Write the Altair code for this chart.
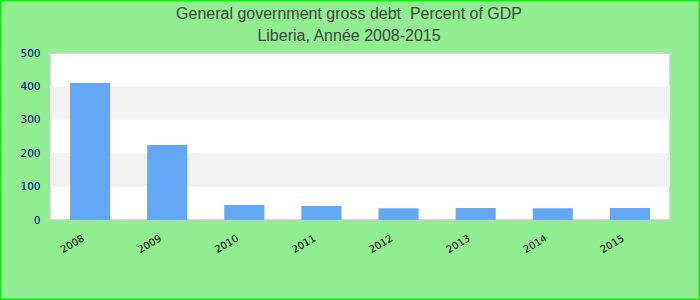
import altair as alt
import pandas as pd

years = ["2008", "2009", "2010", "2011", "2012", "2013", "2014", "2015"]
debt = [410.0, 224.5, 45.0, 42.0, 35.5, 36.0, 35.5, 36.0]
band_lo = [100, 300]
band_hi = [200, 400]
y_ticks = [0, 100, 200, 300, 400, 500]

df = pd.DataFrame({"year": years, "debt": debt})
bands = pd.DataFrame({"lo": band_lo, "hi": band_hi})

yscale = alt.Scale(domain=[0, 500])


def yaxis():
    return alt.Axis(title=None, values=y_ticks,
                    grid=False, ticks=False, domain=False, labelOverlap=False,
                    labelFont="DejaVu Sans", labelFontSize=10.5,
                    labelColor="#00008B", labelPadding=10)


band_layer = alt.Chart(bands).mark_rect(color="#f2f2f2").encode(
    y=alt.Y("lo:Q", scale=yscale, axis=yaxis()),
    y2="hi:Q",
)

bars = alt.Chart(df).mark_bar(color="#63A8F5").encode(
    x=alt.X("year:N", sort=years,
            scale=alt.Scale(paddingInner=0.48, paddingOuter=0.26),
            axis=alt.Axis(title=None, labelAngle=-30, labelFontSize=10,
                          labelFont="DejaVu Sans", labelColor="#000000",
                          ticks=False, domain=False, labelPadding=13,
                          labelOffset=-9, labelAlign="right", labelBaseline="top")),
    y=alt.Y("debt:Q", scale=yscale, axis=yaxis()),
)

frame = alt.Chart(alt.Data(values=[{}])).mark_rect(
    fill=None, stroke="#11ee11", strokeWidth=3, clip=False
).encode(
    x=alt.value(-50), x2=alt.value(650), y=alt.value(-53), y2=alt.value(247)
)

chart = alt.layer(band_layer, bars, frame).properties(
    width=620,
    height=167,
    padding={"left": 50, "top": 53, "right": 30, "bottom": 80},
    autosize=alt.AutoSizeParams(type="none"),
    background="#90EE90",
    title=alt.TitleParams(
        text=["General government gross debt\u00a0 Percent of GDP", "Liberia, Année 2008-2015"],
        fontSize=16, font="Liberation Sans", fontWeight="normal", color="#444444",
        anchor="middle", dx=-11, offset=10, lineHeight=22, dy=55,
    ),
).configure_view(stroke="#cccccc", strokeWidth=1.5, fill="white")

chart.save("out.html", embed_options={"renderer": "svg", "actions": False})
